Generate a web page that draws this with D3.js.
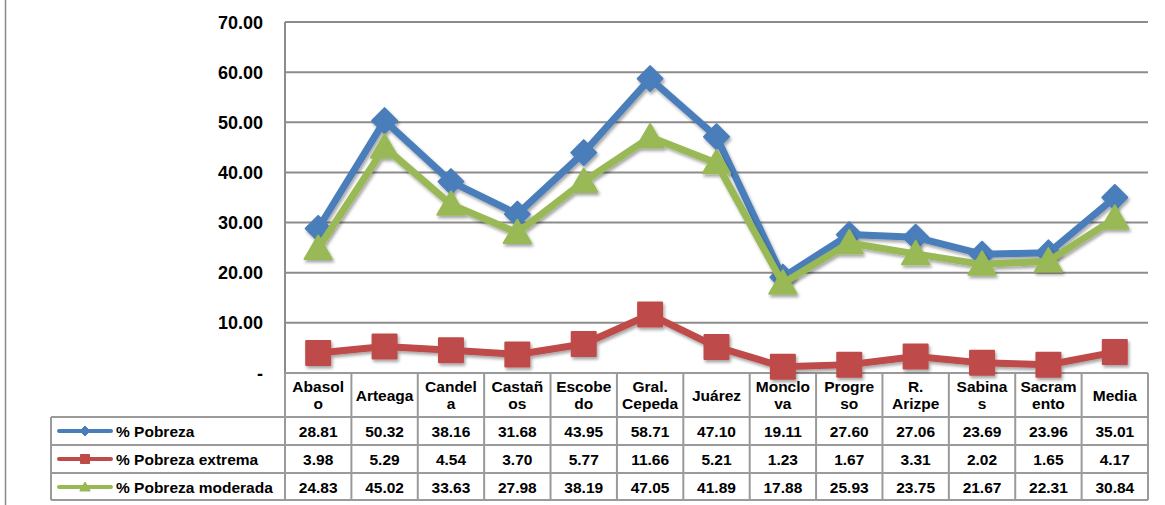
<!DOCTYPE html>
<html><head><meta charset="utf-8">
<script src="https://cdn.jsdelivr.net/npm/d3@7"></script>
<style>body{margin:0;background:#fff;} svg{display:block;font-family:Arial,"Liberation Sans",sans-serif;}</style>
</head><body>
<svg id="c" width="1165" height="505"></svg>
<script>
const categories = ["Abasolo","Arteaga","Candela","Castaños","Escobedo","Gral. Cepeda","Juárez","Monclova","Progreso","R. Arizpe","Sabinas","Sacramento","Media"];
const categoryLines = [["Abasol","o"],["Arteaga"],["Candel","a"],["Castañ","os"],["Escobe","do"],["Gral.","Cepeda"],["Juárez"],["Monclo","va"],["Progre","so"],["R.","Arizpe"],["Sabina","s"],["Sacram","ento"],["Media"]];
const pobreza = [28.81,50.32,38.16,31.68,43.95,58.71,47.10,19.11,27.60,27.06,23.69,23.96,35.01];
const pobrezaExtrema = [3.98,5.29,4.54,3.70,5.77,11.66,5.21,1.23,1.67,3.31,2.02,1.65,4.17];
const pobrezaModerada = [24.83,45.02,33.63,27.98,38.19,47.05,41.89,17.88,25.93,23.75,21.67,22.31,30.84];
const yTicks = [0,10,20,30,40,50,60,70];
const seriesNames = ["% Pobreza","% Pobreza extrema","% Pobreza moderada"];

(function(){
const svg = d3.select("#c");
const pLeft = 285, pRight = 1148, pTop = 22, pBottom = 373;
const x = d3.scaleBand().domain(categories).range([pLeft, pRight]);
const y = d3.scaleLinear().domain([0,70]).range([pBottom, pTop]);

const defs = svg.append("defs");
const f = defs.append("filter").attr("id","sh").attr("x","-30%").attr("y","-30%").attr("width","160%").attr("height","160%");
f.append("feDropShadow").attr("dx",1.5).attr("dy",2.5).attr("stdDeviation",1.8).attr("flood-color","#000").attr("flood-opacity",0.35);

svg.append("line").attr("x1",5.5).attr("x2",5.5).attr("y1",0).attr("y2",505).attr("stroke","#888").attr("stroke-width",1.5);

svg.append("g").selectAll("line").data(yTicks.filter(d=>d>0)).join("line")
  .attr("x1",pLeft).attr("x2",pRight).attr("y1",d=>y(d)).attr("y2",d=>y(d))
  .attr("stroke","#8c8c8c").attr("stroke-width",2);
svg.append("line").attr("x1",pLeft).attr("x2",pLeft).attr("y1",pTop).attr("y2",pBottom).attr("stroke","#8c8c8c").attr("stroke-width",2);

svg.append("g").selectAll("text").data(yTicks).join("text")
  .attr("x",263).attr("y",d=>y(d)+6.5).attr("text-anchor","end")
  .attr("font-size",18).attr("font-weight","bold").attr("fill","#000")
  .text(d=>d===0?"-":d3.format(".2f")(d));

const rowTops = [373,417,445,473,500];
const tableLeft = 51;
const tg = svg.append("g");
const gridC = "#9a9a9a";
rowTops.forEach((ry,i)=>{
  tg.append("line").attr("x1", i===0?pLeft:tableLeft).attr("x2",pRight).attr("y1",ry).attr("y2",ry).attr("stroke",gridC).attr("stroke-width",2);
});
tg.append("line").attr("x1",tableLeft).attr("x2",tableLeft).attr("y1",417).attr("y2",500).attr("stroke",gridC).attr("stroke-width",2);
categories.forEach(c=>{
  tg.append("line").attr("x1",x(c)).attr("x2",x(c)).attr("y1",373).attr("y2",500).attr("stroke",gridC).attr("stroke-width",2);
});
tg.append("line").attr("x1",pRight).attr("x2",pRight).attr("y1",373).attr("y2",500).attr("stroke",gridC).attr("stroke-width",2);

categories.forEach((c,i)=>{
  const lines = categoryLines[i];
  const cx = x(c)+x.bandwidth()/2;
  const ys = lines.length===2 ? [392,409] : [401];
  lines.forEach((t,j)=>{
    tg.append("text").attr("x",cx).attr("y",ys[j]).attr("text-anchor","middle")
      .attr("font-size",15.5).attr("font-weight","bold").text(t);
  });
});

const series = [
  {name:seriesNames[0], values:pobreza, color:"#4a7ebb", marker:"diamond"},
  {name:seriesNames[1], values:pobrezaExtrema, color:"#be4b48", marker:"square"},
  {name:seriesNames[2], values:pobrezaModerada, color:"#98b954", marker:"triangle"}
];
const rowCenters = [431,459,487];

function drawMarker(g, type, cx, cy, color, big){
  let p;
  if(type==="diamond"){
    const r = big?12.5:5;
    p = g.append("path").attr("d",`M${cx},${cy-r}L${cx+r},${cy}L${cx},${cy+r}L${cx-r},${cy}Z`);
  } else if(type==="square"){
    const r = big?12:4.5;
    p = g.append("path").attr("d",`M${cx-r},${cy-r}H${cx+r}V${cy+r}H${cx-r}Z`);
  } else {
    const r = big?13:5;
    p = g.append("path").attr("d",`M${cx},${cy-r}L${cx+r*1.05},${cy+r*0.8}L${cx-r*1.05},${cy+r*0.8}Z`);
  }
  p.attr("fill",color).attr("stroke",color).attr("stroke-width",big?2:1).attr("stroke-linejoin","round");
}

series.forEach((s,i)=>{
  const cy = rowCenters[i];
  tg.append("line").attr("x1",59).attr("x2",111).attr("y1",cy).attr("y2",cy).attr("stroke",s.color).attr("stroke-width",4).attr("stroke-linecap","round");
  drawMarker(tg, s.marker, 85, cy, s.color, false);
  tg.append("text").attr("x",116).attr("y",cy+5.5).attr("font-size",15.5).attr("font-weight","bold").text(s.name);
  s.values.forEach((v,j)=>{
    tg.append("text").attr("x",x(categories[j])+x.bandwidth()/2).attr("y",cy+5.5).attr("text-anchor","middle")
      .attr("font-size",15.5).attr("font-weight","bold").text(d3.format(".2f")(v));
  });
});

const line = d3.line().x((d,i)=>x(categories[i])+x.bandwidth()/2).y(d=>y(d));
const plot = svg.append("g");
[series[0], series[2], series[1]].forEach(s=>{
  const g = plot.append("g").attr("filter","url(#sh)");
  g.append("path").datum(s.values).attr("d",line).attr("fill","none").attr("stroke",s.color).attr("stroke-width",7).attr("stroke-linejoin","round");
  s.values.forEach((v,j)=>drawMarker(g, s.marker, x(categories[j])+x.bandwidth()/2, y(v), s.color, true));
});
})();
</script>
</body></html>
